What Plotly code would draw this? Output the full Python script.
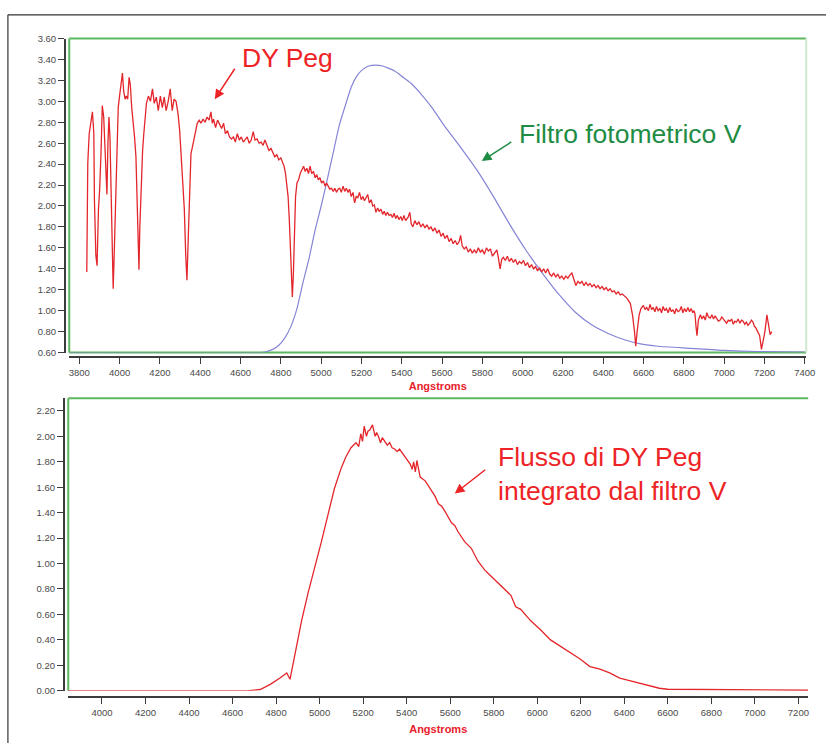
import plotly.graph_objects as go

W, H = 835, 748

# ---------------- DATA ----------------
# DY Peg spectrum (top panel)
dy_wl = [3837, 3842, 3849, 3857, 3865, 3872, 3875, 3882, 3888, 3895, 3901, 3908, 3914, 3921, 3927,
         3934, 3937, 3942, 3947, 3952, 3957, 3963, 3968, 3973, 3980, 3986, 3993, 3999, 4006, 4014,
         4020, 4027, 4033, 4040, 4047, 4053, 4060, 4068, 4074, 4081, 4086, 4091, 4096, 4100, 4107,
         4114, 4120, 4127, 4133, 4143, 4153, 4163, 4172, 4182, 4192, 4202, 4212, 4221, 4231, 4241,
         4251, 4261, 4270, 4280, 4290, 4298, 4306, 4314, 4321, 4328, 4334, 4341, 4347, 4354, 4362,
         4370, 4378, 4385, 4395, 4404, 4414, 4424, 4434, 4444, 4453, 4460, 4466, 4476, 4486, 4496,
         4506, 4516, 4525, 4535, 4545, 4555, 4565, 4574, 4584, 4594, 4604, 4614, 4623, 4633, 4643,
         4653, 4663, 4672, 4682, 4692, 4702, 4712, 4721, 4731, 4741, 4751, 4761, 4770, 4780, 4790,
         4800, 4810, 4816, 4823, 4829, 4836, 4842, 4849, 4854, 4857, 4862, 4867, 4873, 4880, 4888,
         4896, 4904, 4913, 4921, 4929, 4937, 4945, 4953, 4962, 4970, 4978, 4986, 4994, 5002, 5011,
         5019, 5027, 5035, 5043, 5051, 5060, 5068, 5076, 5084, 5092, 5100, 5109, 5117, 5125, 5133,
         5141, 5149, 5158, 5166, 5174, 5182, 5190, 5199, 5207, 5215, 5223, 5231, 5239, 5248, 5256,
         5264, 5272, 5280, 5288, 5297, 5305, 5313, 5321, 5329, 5337, 5346, 5354, 5362, 5370, 5378,
         5386, 5395, 5403, 5411, 5419, 5431, 5440, 5447, 5455, 5465, 5475, 5485, 5495, 5505, 5515,
         5525, 5535, 5545, 5555, 5565, 5575, 5585, 5595, 5605, 5615, 5625, 5635, 5645, 5655, 5665,
         5675, 5685, 5692, 5700, 5710, 5720, 5730, 5740, 5750, 5760, 5770, 5780, 5790, 5800, 5810,
         5820, 5830, 5840, 5850, 5860, 5872, 5880, 5888, 5896, 5904, 5914, 5924, 5934, 5944, 5954,
         5964, 5974, 5984, 5994, 6004, 6014, 6024, 6034, 6044, 6054, 6064, 6074, 6084, 6094, 6104,
         6114, 6124, 6134, 6144, 6154, 6164, 6174, 6184, 6194, 6204, 6214, 6224, 6234, 6244, 6254,
         6264, 6274, 6284, 6294, 6304, 6314, 6324, 6334, 6344, 6354, 6364, 6374, 6384, 6394, 6404,
         6414, 6424, 6434, 6444, 6454, 6464, 6474, 6484, 6494, 6504, 6517, 6534, 6545, 6555, 6561,
         6568, 6578, 6587, 6599, 6607, 6615, 6624, 6632, 6640, 6648, 6656, 6664, 6672, 6681, 6689,
         6697, 6705, 6713, 6722, 6730, 6738, 6746, 6754, 6762, 6771, 6779, 6787, 6795, 6803, 6811,
         6820, 6828, 6836, 6844, 6850, 6855, 6860, 6865, 6872, 6882, 6890, 6898, 6906, 6914, 6922,
         6931, 6939, 6947, 6955, 6963, 6971, 6980, 6988, 6996, 7004, 7012, 7020, 7029, 7037, 7045,
         7053, 7061, 7069, 7078, 7086, 7094, 7102, 7110, 7118, 7127, 7135, 7143, 7150, 7156, 7166,
         7176, 7185, 7192, 7202, 7212, 7220, 7228, 7236]
dy_flux = [1.37, 2.41, 2.69, 2.79, 2.90, 2.69, 2.06, 1.53, 1.43, 1.97, 2.16, 2.53, 2.96, 2.85, 2.60,
           2.22, 2.11, 2.60, 2.85, 2.66, 2.16, 1.53, 1.21, 1.53, 1.97, 2.53, 2.94, 3.04, 3.13, 3.27,
           3.10, 3.02, 3.05, 3.02, 3.23, 3.16, 2.94, 2.79, 2.66, 2.47, 2.09, 1.59, 1.39, 1.78, 2.28,
           2.53, 2.69, 2.85, 2.98, 3.05, 3.00, 3.12, 2.98, 3.04, 2.91, 3.05, 2.94, 3.04, 2.91, 3.00,
           3.12, 2.91, 3.02, 3.00, 2.88, 2.72, 2.47, 2.28, 1.97, 1.53, 1.29, 1.72, 2.22, 2.50, 2.57,
           2.66, 2.72, 2.79, 2.82, 2.79, 2.83, 2.80, 2.85, 2.82, 2.90, 2.79, 2.83, 2.75, 2.82, 2.77,
           2.74, 2.79, 2.69, 2.72, 2.66, 2.64, 2.66, 2.61, 2.69, 2.63, 2.66, 2.61, 2.64, 2.66, 2.60,
           2.63, 2.71, 2.63, 2.64, 2.60, 2.61, 2.58, 2.63, 2.57, 2.53, 2.55, 2.50, 2.47, 2.49, 2.44,
           2.46, 2.41, 2.38, 2.31, 2.22, 2.09, 1.87, 1.59, 1.34, 1.13, 1.34, 1.78, 2.09, 2.22, 2.25,
           2.31, 2.35, 2.38, 2.33, 2.36, 2.31, 2.38, 2.31, 2.33, 2.27, 2.30, 2.25, 2.27, 2.22, 2.24,
           2.19, 2.22, 2.19, 2.16, 2.17, 2.14, 2.17, 2.13, 2.16, 2.17, 2.13, 2.19, 2.14, 2.17, 2.13,
           2.16, 2.09, 2.13, 2.03, 2.09, 2.08, 2.13, 2.06, 2.09, 2.05, 2.08, 2.11, 2.03, 2.06, 2.00,
           2.01, 1.94, 1.98, 1.95, 1.97, 1.92, 1.95, 1.91, 1.94, 1.91, 1.92, 1.89, 1.93, 1.88, 1.91,
           1.87, 1.90, 1.86, 1.91, 1.86, 1.89, 1.94, 1.83, 1.80, 1.86, 1.82, 1.85, 1.80, 1.83, 1.79,
           1.82, 1.78, 1.80, 1.76, 1.79, 1.74, 1.77, 1.71, 1.74, 1.69, 1.72, 1.66, 1.69, 1.64, 1.67,
           1.63, 1.66, 1.72, 1.62, 1.59, 1.61, 1.56, 1.59, 1.55, 1.58, 1.55, 1.60, 1.56, 1.58, 1.54,
           1.60, 1.57, 1.59, 1.52, 1.55, 1.58, 1.50, 1.40, 1.49, 1.51, 1.48, 1.52, 1.47, 1.50, 1.46,
           1.49, 1.44, 1.47, 1.45, 1.48, 1.43, 1.46, 1.41, 1.44, 1.40, 1.42, 1.38, 1.41, 1.37, 1.40,
           1.36, 1.40, 1.35, 1.33, 1.36, 1.32, 1.35, 1.31, 1.33, 1.30, 1.33, 1.31, 1.34, 1.36, 1.30,
           1.24, 1.28, 1.26, 1.28, 1.24, 1.27, 1.24, 1.26, 1.23, 1.25, 1.22, 1.24, 1.21, 1.23, 1.20,
           1.22, 1.19, 1.21, 1.18, 1.19, 1.16, 1.18, 1.15, 1.16, 1.14, 1.12, 1.07, 0.96, 0.80, 0.66,
           0.80, 0.96, 1.02, 1.05, 1.01, 1.03, 1.00, 1.06, 1.01, 1.03, 0.99, 1.04, 1.00, 1.02, 0.98,
           1.04, 1.00, 1.02, 0.98, 1.03, 0.99, 1.01, 0.97, 1.02, 0.99, 1.00, 1.04, 0.98, 1.02, 0.99,
           1.03, 0.99, 1.02, 0.98, 1.00, 0.97, 0.85, 0.76, 0.91, 0.96, 0.92, 0.95, 0.91, 0.98, 0.94,
           0.93, 0.96, 0.92, 0.95, 0.93, 0.90, 0.91, 0.94, 0.92, 0.90, 0.88, 0.91, 0.90, 0.92, 0.87,
           0.90, 0.89, 0.92, 0.88, 0.91, 0.90, 0.87, 0.89, 0.86, 0.88, 0.91, 0.89, 0.85, 0.84, 0.80,
           0.76, 0.63, 0.71, 0.80, 0.96, 0.87, 0.77, 0.80]

# Photometric V filter transmission curve (top panel)
filt_wl = [3750, 4700, 4730, 4760, 4790, 4820, 4850, 4880, 4910, 4940, 4970, 5000, 5030, 5060,
           5090, 5120, 5150, 5180, 5210, 5240, 5270, 5300, 5330, 5365, 5400, 5447, 5500, 5550,
           5610, 5692, 5774, 5855, 5937, 6019, 6101, 6182, 6264, 6346, 6427, 6509, 6591, 6672,
           6836, 6999, 7163, 7400]
filt_val = [0.60, 0.60, 0.61, 0.63, 0.67, 0.74, 0.85, 1.02, 1.27, 1.50, 1.77, 2.00, 2.25, 2.51,
            2.77, 2.96, 3.14, 3.25, 3.31, 3.34, 3.345, 3.34, 3.32, 3.29, 3.24, 3.17, 3.06, 2.94,
            2.77, 2.56, 2.34, 2.09, 1.82, 1.57, 1.35, 1.15, 0.98, 0.86, 0.78, 0.72, 0.68, 0.66,
            0.64, 0.62, 0.61, 0.605]

# DY Peg flux integrated through the V filter (bottom panel)
int_wl = [3845, 4667, 4727, 4773, 4818, 4849, 4864, 4887, 4917, 4947, 4977, 5008, 5038, 5068,
          5099, 5121, 5144, 5167, 5180, 5189, 5197, 5205, 5215, 5222, 5230, 5243, 5255, 5262,
          5270, 5280, 5288, 5296, 5311, 5322, 5333, 5345, 5356, 5367, 5379, 5390, 5402, 5417,
          5425, 5432, 5440, 5447, 5462, 5485, 5500, 5515, 5530, 5546, 5561, 5576, 5591, 5606,
          5621, 5636, 5667, 5697, 5727, 5758, 5788, 5818, 5848, 5879, 5901, 5924, 5970, 6015,
          6061, 6106, 6152, 6197, 6242, 6288, 6333, 6379, 6424, 6470, 6515, 6561, 6600, 6700,
          6800, 6900, 7000, 7100, 7245]
int_flux = [0.00, 0.00, 0.01, 0.05, 0.10, 0.14, 0.09, 0.30, 0.55, 0.77, 0.96, 1.17, 1.38, 1.59,
            1.75, 1.84, 1.91, 1.95, 1.92, 2.02, 1.96, 2.08, 2.00, 2.04, 2.05, 2.09, 2.00, 2.03,
            2.00, 1.95, 1.99, 1.97, 1.93, 1.95, 1.91, 1.90, 1.88, 1.90, 1.87, 1.84, 1.82, 1.78,
            1.74, 1.80, 1.72, 1.81, 1.68, 1.65, 1.61, 1.57, 1.53, 1.47, 1.45, 1.41, 1.36, 1.32,
            1.30, 1.25, 1.17, 1.12, 1.02, 0.95, 0.90, 0.85, 0.80, 0.75, 0.66, 0.64, 0.55, 0.48,
            0.40, 0.35, 0.30, 0.25, 0.19, 0.17, 0.14, 0.10, 0.08, 0.06, 0.04, 0.02, 0.012, 0.010,
            0.009, 0.008, 0.007, 0.005, 0.004]

top_xticks = list(range(3800, 7401, 200))
top_yticks = [round(0.6 + 0.2 * i, 2) for i in range(16)]
bot_xticks = list(range(4000, 7201, 200))
bot_yticks = [round(0.2 * i, 2) for i in range(12)]

# ---------------- STYLE / LAYOUT ----------------
RED = "#e3262b"
BLUE = "#8585d6"
GREEN = "#5cb85f"
LGREEN = "#cfe9d1"
AXC = "#3c3c3c"
TICKF = dict(family="Liberation Sans, Arial, sans-serif", size=9.5, color="#4a4a4a")


def px(x):
    return x / W


def py(y):
    return 1 - y / H


fig = go.Figure()
fig.add_trace(go.Scatter(x=filt_wl, y=filt_val, mode="lines", xaxis="x", yaxis="y",
                         line=dict(color=BLUE, width=1.2, shape="spline", smoothing=0.6),
                         showlegend=False, hoverinfo="skip"))
fig.add_trace(go.Scatter(x=dy_wl, y=dy_flux, mode="lines", xaxis="x", yaxis="y",
                         line=dict(color=RED, width=1.3), showlegend=False))
fig.add_trace(go.Scatter(x=int_wl, y=int_flux, mode="lines", xaxis="x2", yaxis="y2",
                         line=dict(color=RED, width=1.3), showlegend=False))

title_font = dict(family="Liberation Sans, Arial, sans-serif", size=11, color="#e8202a")
axis_common = dict(showgrid=False, zeroline=False, showline=True, linecolor=AXC, linewidth=1.5,
                   ticks="outside", ticklen=6, tickwidth=1, tickcolor=AXC, tickfont=TICKF)

fig.update_layout(
    width=W, height=H, margin=dict(l=0, r=0, t=0, b=0),
    paper_bgcolor="white", plot_bgcolor="white",
    xaxis=dict(domain=[px(70), px(815)], range=[3750, 7407], anchor="free", position=py(356.7),
               tickvals=top_xticks, ticktext=[str(v) for v in top_xticks],
               title=dict(text="<b>Angstroms</b>", font=title_font, standoff=5),
               **axis_common),
    yaxis=dict(domain=[py(351.7), py(33)], range=[0.6, 3.6], anchor="free", position=px(65.5),
               tickvals=top_yticks, ticktext=[f"{v:.2f}" for v in top_yticks],
               **axis_common),
    xaxis2=dict(domain=[px(69), px(817)], range=[3845, 7245], anchor="free", position=py(701.7),
                tickvals=bot_xticks, ticktext=[str(v) for v in bot_xticks],
                title=dict(text="<b>Angstroms</b>", font=title_font, standoff=8),
                **axis_common),
    yaxis2=dict(domain=[py(695), py(398)], range=[0, 2.30], anchor="free", position=px(64.3),
                tickvals=bot_yticks, ticktext=[f"{v:.2f}" for v in bot_yticks],
                **axis_common),
)

shapes = []
# outer frame (left and top)
shapes.append(dict(type="line", xref="paper", yref="paper", x0=px(8), x1=px(8), y0=0, y1=py(9),
                   line=dict(color="#333", width=1.2)))
shapes.append(dict(type="line", xref="paper", yref="paper", x0=px(8), x1=1, y0=py(9), y1=py(9),
                   line=dict(color="#333", width=1.2)))
# green borders of the top plot
for (x0, y0, x1, y1, c) in [(0, 1, 1, 1, GREEN), (0, 0, 0, 1, GREEN), (0, 0, 1, 0, GREEN), (1, 0, 1, 1, LGREEN)]:
    shapes.append(dict(type="line", xref="x domain", yref="y domain", x0=x0, y0=y0, x1=x1, y1=y1,
                       line=dict(color=c, width=2), layer="below"))
# green borders of the bottom plot
for (x0, y0, x1, y1, c) in [(0, 1, 1, 1, GREEN), (0, 0, 0, 1, GREEN)]:
    shapes.append(dict(type="line", xref="x2 domain", yref="y2 domain", x0=x0, y0=y0, x1=x1, y1=y1,
                       line=dict(color=c, width=2), layer="below"))
fig.update_layout(shapes=shapes)

TXT = "Liberation Sans, Arial, sans-serif"
FS = 26.5
annotations = [
    dict(xref="paper", yref="paper", x=px(243), y=py(53), text="DY Peg", showarrow=False,
         xanchor="left", yanchor="middle", font=dict(family=TXT, size=FS, color="#ee2326")),
    dict(xref="x", yref="y", x=4472, y=3.02, ax=21, ay=-32, text="", showarrow=True,
         arrowhead=2, arrowsize=1.3, arrowwidth=1.5, arrowcolor="#ee2326"),
    dict(xref="paper", yref="paper", x=px(523), y=py(130), text="Filtro fotometrico V",
         showarrow=False, xanchor="left", yanchor="middle",
         font=dict(family=TXT, size=FS, color="#1e8c44")),
    dict(xref="x", yref="y", x=5797, y=2.43, ax=31, ay=-20, text="", showarrow=True,
         arrowhead=2, arrowsize=1.3, arrowwidth=1.5, arrowcolor="#1e8c44"),
    dict(xref="paper", yref="paper", x=px(501), y=py(475), text="Flusso di DY Peg<br>integrato dal filtro V",
         showarrow=False, xanchor="left", yanchor="middle", align="left",
         font=dict(family=TXT, size=FS, color="#ee2326")),
    dict(xref="x2", yref="y2", x=5621, y=1.55, ax=32, ay=-25, text="", showarrow=True,
         arrowhead=2, arrowsize=1.3, arrowwidth=1.5, arrowcolor="#ee2326"),
]
fig.update_layout(annotations=annotations)

fig.write_html("out.html")
